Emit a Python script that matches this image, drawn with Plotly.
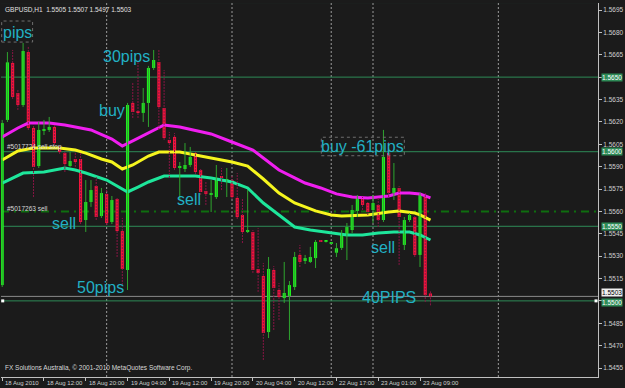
import plotly.graph_objects as go

# ---------------- data ----------------
# hourly bars, index 0 = 18 Aug 2010 04:00
opens = [1.55106,1.56213,1.56595,1.56394,1.56313,1.56668,1.56159,1.55904,1.56139,1.56146,
         1.56166,1.56032,1.55991,1.55904,1.55951,1.55951,1.55542,1.55663,1.55770,1.55569,
         1.55717,1.55529,1.55683,1.55468,1.55207,1.56327,1.56273,1.56260,1.56327,1.56561,
         1.56601,1.56293,1.56079,1.56099,1.55891,1.55884,1.55911,1.55991,1.55877,1.55737,
         1.55714,1.55696,1.55837,1.55810,1.55810,1.55690,1.55576,1.55468,1.55462,1.55214,
         1.55167,1.54791,1.55207,1.55073,1.55019,1.55033,1.55093,1.55308,1.55274,1.55261,
         1.55287,1.55405,1.55395,1.55386,1.55323,1.55355,1.55442,1.55475,1.55603,1.55690,
         1.55656,1.55609,1.55643,1.55542,1.55991,1.55723,1.55757,1.55375,1.55542,1.55562,
         1.55308,1.55710,1.55050]
highs = [1.56213,1.56668,1.56682,1.56414,1.56729,1.56709,1.56172,1.56199,1.56213,1.56233,
         1.56179,1.56038,1.55998,1.55998,1.55998,1.55998,1.55810,1.55810,1.55830,1.55757,
         1.55743,1.55703,1.55696,1.55556,1.56327,1.56467,1.56601,1.56427,1.56575,1.56682,
         1.56682,1.56548,1.56132,1.56125,1.55931,1.56058,1.56032,1.55998,1.55891,1.55797,
         1.55810,1.55911,1.55891,1.55891,1.55844,1.55857,1.55690,1.55743,1.55475,1.55489,
         1.55254,1.55294,1.55234,1.55120,1.55261,1.55133,1.55328,1.55375,1.55308,1.55362,
         1.55408,1.55408,1.55401,1.55395,1.55388,1.55475,1.55522,1.55643,1.55710,1.55696,
         1.55663,1.55710,1.55696,1.56146,1.56065,1.55924,1.55770,1.55562,1.55589,1.55576,
         1.55723,1.55723,1.55070]
lows = [1.55093,1.56199,1.56353,1.56280,1.56300,1.56146,1.55696,1.55891,1.56112,1.56132,
        1.56045,1.55985,1.55864,1.55898,1.55898,1.55515,1.55462,1.55630,1.55542,1.55556,
        1.55509,1.55515,1.55294,1.55106,1.55073,1.56226,1.56226,1.56199,1.56166,1.56548,
        1.56146,1.56079,1.55824,1.55877,1.55676,1.55864,1.55898,1.55850,1.55710,1.55643,
        1.55596,1.55683,1.55743,1.55696,1.55683,1.55549,1.55388,1.55455,1.55187,1.55060,
        1.54604,1.54751,1.54805,1.54872,1.54986,1.54738,1.55073,1.55227,1.55247,1.55254,
        1.55220,1.55395,1.55391,1.55381,1.55294,1.55341,1.55274,1.55455,1.55562,1.55609,
        1.55576,1.55522,1.55495,1.55529,1.55696,1.55676,1.55241,1.55341,1.55529,1.55294,
        1.55227,1.54992,1.54970]
closes = [1.56192,1.56599,1.56367,1.56313,1.56675,1.56159,1.55898,1.56146,1.56152,1.56166,
          1.56058,1.55998,1.55918,1.55938,1.55931,1.55529,1.55663,1.55743,1.55562,1.55723,
          1.55522,1.55676,1.55468,1.55214,1.56313,1.56266,1.56260,1.56327,1.56561,1.56615,
          1.56300,1.56092,1.56058,1.55891,1.55898,1.55911,1.55965,1.55864,1.55730,1.55717,
          1.55720,1.55817,1.55824,1.55817,1.55696,1.55562,1.55462,1.55475,1.55207,1.55187,
          1.54785,1.55214,1.55086,1.55026,1.55053,1.55106,1.55294,1.55261,1.55287,1.55294,
          1.55395,1.55398,1.55398,1.55392,1.55353,1.55455,1.55495,1.55609,1.55696,1.55643,
          1.55596,1.55656,1.55542,1.55965,1.55723,1.55757,1.55562,1.55542,1.55576,1.55308,
          1.55710,1.55039,1.55030]

# indicator lines (bar index, price)
ma_top_x = [0,3,5,9,12,17,21,23,25,28,31,34,40,44,48,50,53,56,58,61,64,67,70,74,76,78,80,82]
ma_top = [1.56099,1.56159,1.56192,1.56192,1.56179,1.56146,1.56085,1.56038,1.56072,1.56125,
          1.56179,1.56166,1.56119,1.56065,1.56011,1.55958,1.55877,1.55824,1.55790,1.55757,
          1.55717,1.55696,1.55690,1.55703,1.55723,1.55723,1.55717,1.55690]
ma_mid_x = [0,3,6,11,14,16,19,21,23,25,28,30,34,37,40,44,47,50,53,56,60,63,65,70,74,76,79,80,82]
ma_mid = [1.55944,1.56005,1.56025,1.56025,1.56011,1.55991,1.55951,1.55931,1.55884,1.55911,
          1.55971,1.55998,1.55998,1.55978,1.55958,1.55931,1.55904,1.55817,1.55723,1.55656,
          1.55603,1.55576,1.55569,1.55576,1.55596,1.55603,1.55589,1.55576,1.55542]
ma_low_x = [0,4,8,12,14,16,20,24,26,28,31,37,40,44,47,50,53,56,59,63,66,69,72,75,78,80,82]
ma_low = [1.55790,1.55857,1.55864,1.55891,1.55877,1.55857,1.55810,1.55730,1.55763,1.55797,
          1.55837,1.55837,1.55824,1.55797,1.55757,1.55656,1.55576,1.55495,1.55475,1.55455,
          1.55442,1.55442,1.55455,1.55462,1.55462,1.55442,1.55408]

# axes
x_label_idx = [0, 8, 16, 24, 32, 40, 48, 56, 64, 72, 80]
x_label_txt = ["18 Aug 2010", "18 Aug 12:00", "18 Aug 20:00", "19 Aug 04:00", "19 Aug 12:00",
               "19 Aug 20:00", "20 Aug 04:00", "20 Aug 12:00", "22 Aug 17:00", "23 Aug 01:00",
               "23 Aug 09:00"]
y_tick_vals = [1.5455, 1.5470, 1.5485, 1.5500, 1.5515, 1.5530, 1.5545, 1.5560, 1.5575, 1.5590,
               1.5605, 1.5620, 1.5635, 1.5650, 1.5665, 1.5680, 1.5695]
separator_idx = [20, 44, 63, 71, 95]          # day separators
hline_prices = [1.5700, 1.5650, 1.5600, 1.5550, 1.5500]
order_line_price = 1.5560
bid_price = 1.5503

# text labels: (bar index, price, text)
big_labels = [(2.86, 1.56796, "pips"), (23.76, 1.56635, "30pips"), (20.96, 1.56273, "buy"),
              (11.89, 1.55522, "sell"), (35.78, 1.55680, "sell"), (68.95, 1.56032, "buy -61pips"),
              (72.86, 1.55359, "sell"), (18.91, 1.55090, "50pips"), (73.97, 1.55021, "40PIPS")]
boxes = [(-0.1, 5.82, 1.56735, 1.56876), (61.1, 77.0, 1.55973, 1.56097)]
small_labels = [(0.53, 1.56032, "#5017724 sell stop"), (0.53, 1.55621, "#5017263 sell")]

# ---------------- style ----------------
BG = "#1b1b1b"
BULL = "#1ef01e"
BEAR = "#f2143c"
BULL_WICK = "#2fa52f"
BEAR_WICK = "#8a1545"
TXT = "#22b0c4"
FONT = "Liberation Sans, Arial, sans-serif"
XMIN, XMAX = -0.23, 114.08
YMIN, YMAX = 1.544897, 1.569969

fig = go.Figure()

shapes = []
for s in separator_idx:
    shapes.append(dict(type="line", xref="x", yref="paper", x0=s, x1=s, y0=0, y1=1,
                       line=dict(color="#9a9a9a", width=1, dash="2px,2px"), layer="below"))
for p in hline_prices:
    shapes.append(dict(type="line", xref="paper", yref="y", x0=0, x1=1, y0=p, y1=p,
                       line=dict(color="#2e8b57", width=1), layer="below"))
shapes.append(dict(type="line", xref="paper", yref="y", x0=0, x1=1, y0=order_line_price,
                   y1=order_line_price, line=dict(color="#0f6e0f", width=2, dash="8px,5px,2px,5px"),
                   layer="below"))
shapes.append(dict(type="line", xref="paper", yref="y", x0=0, x1=1, y0=bid_price, y1=bid_price,
                   line=dict(color="#8a8a8a", width=1), layer="below"))
for (x0, x1, y0, y1) in boxes:
    shapes.append(dict(type="rect", xref="x", yref="y", x0=x0, x1=x1, y0=y0, y1=y1,
                       line=dict(color="#6f6f6f", width=1, dash="dot"), layer="above"))

# indicator lines
fig.add_trace(go.Scatter(x=ma_top_x, y=ma_top, mode="lines", line=dict(color="#f01ef0", width=3)))
fig.add_trace(go.Scatter(x=ma_mid_x, y=ma_mid, mode="lines", line=dict(color="#f5f51e", width=3)))
fig.add_trace(go.Scatter(x=ma_low_x, y=ma_low, mode="lines", line=dict(color="#1ee69b", width=3)))

# wicks
idx = list(range(len(opens)))
wx_up, wy_up, wx_dn, wy_dn = [], [], [], []
for i in idx:
    if closes[i] >= opens[i]:
        wx_up += [i, i, None]; wy_up += [lows[i], highs[i], None]
    else:
        wx_dn += [i, i, None]; wy_dn += [lows[i], highs[i], None]
fig.add_trace(go.Scatter(x=wx_up, y=wy_up, mode="lines", line=dict(color=BULL_WICK, width=1)))
fig.add_trace(go.Scatter(x=wx_dn, y=wy_dn, mode="lines",
                         line=dict(color=BEAR_WICK, width=1, dash="2px,1px")))

# bodies
MINB = 0.00007
bx_up, bb_up, bh_up, bx_dn, bb_dn, bh_dn = [], [], [], [], [], []
for i in idx:
    lo, hi = min(opens[i], closes[i]), max(opens[i], closes[i])
    h = max(hi - lo, MINB)
    if closes[i] >= opens[i]:
        bx_up.append(i); bb_up.append(lo); bh_up.append(h)
    else:
        bx_dn.append(i); bb_dn.append(lo); bh_dn.append(h)
fig.add_trace(go.Bar(x=bx_up, y=bh_up, base=bb_up, width=0.6, marker=dict(color=BULL, line=dict(width=0))))
fig.add_trace(go.Bar(x=bx_dn, y=bh_dn, base=bb_dn, width=0.6, marker=dict(color=BEAR, line=dict(width=0))))

# selection handles on the 1.5500 line
fig.add_trace(go.Scatter(x=[0.1, 113.7], y=[1.5500, 1.5500], mode="markers",
                         marker=dict(symbol="square", size=3, color="#ffffff", line=dict(width=0))))

ann = []
for (x, y, t) in big_labels:
    ann.append(dict(x=x, y=y, xref="x", yref="y", text=t, showarrow=False,
                    font=dict(family=FONT, size=16, color=TXT)))
for (x, y, t) in small_labels:
    ann.append(dict(x=x, y=y, xref="x", yref="y", text=t, showarrow=False, xanchor="left",
                    font=dict(family=FONT, size=6.5, color="#d8d8d8")))
for (i, t) in zip(x_label_idx, x_label_txt):
    ann.append(dict(x=i, y=0, xref="x", yref="paper", text=t, showarrow=False, xanchor="left",
                    yanchor="top", xshift=1, yshift=-1, font=dict(family=FONT, size=6, color="#d0d0d0")))
# right-axis price boxes
ann.append(dict(x=1, y=bid_price, xref="paper", yref="y", text="%.4f" % bid_price, showarrow=False,
                xanchor="left", yanchor="bottom", xshift=3, yshift=-1, bgcolor="#f0f0f0", borderpad=0,
                font=dict(family=FONT, size=6.5, color="#000000")))
for p in hline_prices:
    extra = dict(yanchor="top", yshift=3) if p == 1.5500 else {}
    ann.append(dict(x=1, y=p, xref="paper", yref="y", text="%.4f" % p, showarrow=False,
                    xanchor="left", xshift=3, bgcolor="#2e8b57", borderpad=0,
                    font=dict(family=FONT, size=6.5, color="#ffffff"), **extra))
ann.append(dict(x=0, y=1, xref="paper", yref="paper", text="GBPUSD,H1  1.5505 1.5507 1.5497 1.5503",
                showarrow=False, xanchor="left", yanchor="top", xshift=2, yshift=-1,
                font=dict(family=FONT, size=6.5, color="#e0e0e0")))
ann.append(dict(x=0, y=0, xref="paper", yref="paper",
                text="FX Solutions Australia, © 2001-2010 MetaQuotes Software Corp.",
                showarrow=False, xanchor="left", yanchor="bottom", xshift=2, yshift=3,
                font=dict(family=FONT, size=6.5, color="#d8d8d8")))

# regular tick labels, hidden where a price box sits on top of them
y_tick_txt = ["" if any(abs(v - p) < 1e-9 for p in hline_prices) else "%.4f" % v for v in y_tick_vals]

fig.update_layout(
    width=625, height=388, margin=dict(l=1, r=25, t=3, b=11),
    paper_bgcolor=BG, plot_bgcolor=BG, showlegend=False, barmode="overlay",
    hovermode=False, shapes=shapes, annotations=ann,
    xaxis=dict(range=[XMIN, XMAX], showgrid=False, zeroline=False, showline=True,
               linecolor="#c0c0c0", linewidth=1, ticks="outside", ticklen=3, tickcolor="#c0c0c0",
               tickvals=x_label_idx, ticktext=[""] * len(x_label_idx), fixedrange=True),
    yaxis=dict(range=[YMIN, YMAX], side="right", showgrid=False, zeroline=False, showline=True,
               linecolor="#c0c0c0", linewidth=1, ticks="outside", ticklen=3, tickcolor="#c0c0c0",
               tickvals=y_tick_vals, ticktext=y_tick_txt,
               tickfont=dict(family=FONT, size=6.5, color="#d0d0d0"), fixedrange=True),
)

fig.write_html("out.html")
